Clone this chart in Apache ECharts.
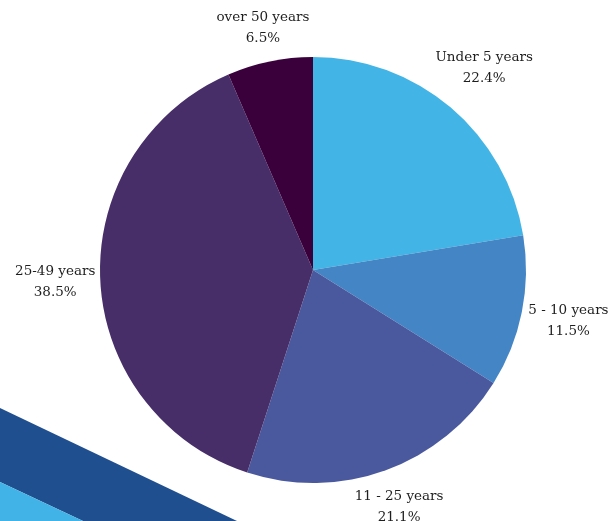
<!DOCTYPE html>
<html>
<head>
<meta charset="utf-8">
<script src="https://cdn.jsdelivr.net/npm/echarts@6/dist/echarts.min.js"></script>
<style>
  html, body { margin: 0; padding: 0; background: #fff; }
  #main { width: 611px; height: 521px; }
</style>
</head>
<body>
<div id="main"></div>
<script>
// данные
const categories = ['Under 5 years', '5 - 10 years', '11 - 25 years', '25-49 years', 'over 50 years'];
const values = [22.4, 11.5, 21.1, 38.5, 6.5];
const colors = ['#42b4e6', '#4385c5', '#4a599d', '#472e69', '#3a003b'];

const CX = 313, CY = 270, R = 213;
const total = values.reduce((a, b) => a + b, 0);

// средний угол каждого сектора (от 12 часов по часовой)
let acc = 0;
const midAngles = values.map(v => {
    let a = (acc + v / 2) / total * Math.PI * 2;
    acc += v;
    return a;
});

let chart = echarts.init(document.getElementById('main'));
chart.setOption({
    animation: false,
    color: colors,
    graphic: [
        {
            type: 'polygon',
            shape: { points: [[0, 408], [237, 521], [83, 521], [0, 482]] },
            style: { fill: '#1f4f8f' }
        },
        {
            type: 'polygon',
            shape: { points: [[0, 482], [83, 521], [0, 521]] },
            style: { fill: '#41b3e6' }
        }
    ],
    series: [{
        type: 'pie',
        center: [CX, CY],
        radius: R,
        startAngle: 90,
        avoidLabelOverlap: false,
        label: {
            position: 'outside',
            formatter: p => p.name + '\n' + p.value.toFixed(1) + '%',
            fontFamily: 'DejaVu Serif',
            fontSize: 13.5,
            lineHeight: 21,
            color: '#1e1e1e'
        },
        labelLine: { show: false },
        labelLayout: function (params) {
            let a = midAngles[params.dataIndex];
            let dx = Math.sin(a), dy = -Math.cos(a);
            let w = params.labelRect.width, h = params.labelRect.height;
            let d = R + 4 + w / 2 * Math.abs(dx) + h / 2 * Math.abs(dy);
            return {
                x: CX + d * dx,
                y: CY + d * dy,
                align: 'center',
                verticalAlign: 'middle'
            };
        },
        data: categories.map((c, i) => ({ name: c, value: values[i] }))
    }]
});
</script>
</body>
</html>
